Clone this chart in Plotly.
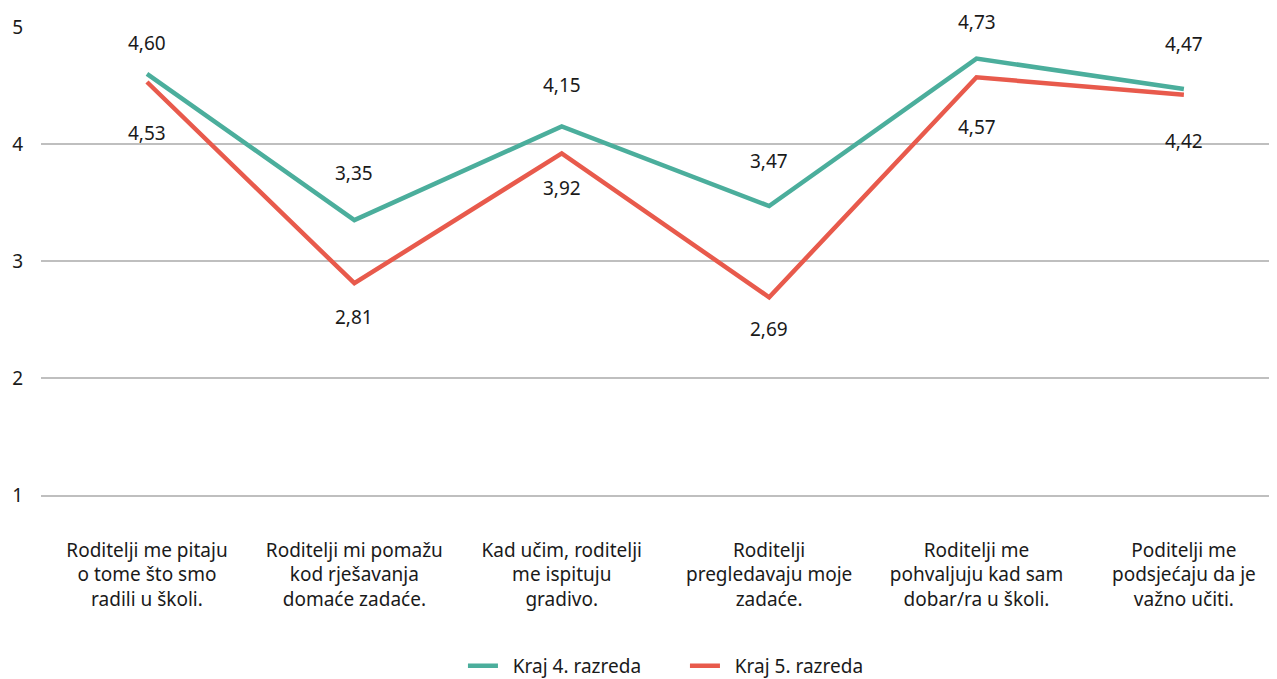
import plotly.graph_objects as go

categories = [
    "Roditelji me pitaju<br>o tome što smo<br>radili u školi.",
    "Roditelji mi pomažu<br>kod rješavanja<br>domaće zadaće.",
    "Kad učim, roditelji<br>me ispituju<br>gradivo.",
    "Roditelji<br>pregledavaju moje<br>zadaće.",
    "Roditelji me<br>pohvaljuju kad sam<br>dobar/ra u školi.",
    "Poditelji me<br>podsjećaju da je<br>važno učiti.",
]
series_names = ["Kraj 4. razreda", "Kraj 5. razreda"]
kraj4 = [4.60, 3.35, 4.15, 3.47, 4.73, 4.47]
kraj5 = [4.53, 2.81, 3.92, 2.69, 4.57, 4.42]
y_ticks = [1, 2, 3, 4, 5]

# label offsets (pixels) — styling only
shift4 = [31, 47, 41, 45, 37, 45]
shift5 = [-51, -34, -35, -32, -50, -46]

colors = ["#4BAE9C", "#E85A4C"]
FONT = "Noto Sans"
FS = 19
TXT = "#1a1a1a"
xs = list(range(len(categories)))

fig = go.Figure()
for name, vals, col in zip(series_names, [kraj4, kraj5], colors):
    fig.add_trace(go.Scatter(
        x=xs, y=vals, mode="lines", name="\u00a0\u00a0" + name,
        line=dict(color=col, width=4.5),
    ))

annotations = []
for vals, shifts in [(kraj4, shift4), (kraj5, shift5)]:
    for xi, v, s in zip(xs, vals, shifts):
        annotations.append(dict(
            x=xi, y=v, xref="x", yref="y",
            text=f"{v:.2f}".replace(".", ","),
            showarrow=False, yshift=s,
            font=dict(family=FONT, size=FS, color=TXT),
        ))

# page body has an 8px default margin; the figure sits at (8, 8)
fig.update_layout(
    width=1269, height=671,
    margin=dict(l=33, r=0, t=19, b=184, autoexpand=False),
    paper_bgcolor="white", plot_bgcolor="white",
    font=dict(family=FONT, size=FS, color=TXT),
    showlegend=True,
    legend=dict(
        orientation="h", x=0.521, xanchor="center", y=-0.365, yanchor="middle",
        font=dict(family=FONT, size=FS, color=TXT),
        entrywidth=177, entrywidthmode="pixels", itemwidth=30,
    ),
    annotations=annotations,
)
fig.update_xaxes(
    range=[-0.511, 5.449], automargin=False,
    tickmode="array", tickvals=xs, ticktext=categories,
    showgrid=False, zeroline=False,
    showline=True, linecolor="#BFBFBF", linewidth=1.5,
    ticks="", ticklabelstandoff=37,
    tickfont=dict(family=FONT, size=FS, color=TXT),
)
fig.update_yaxes(
    range=[1, 5], automargin=False,
    tickmode="array", tickvals=y_ticks,
    showgrid=True, gridcolor="#BFBFBF", gridwidth=1.5,
    zeroline=False, showline=False, ticks="",
    ticklabelstandoff=17,
    tickfont=dict(family=FONT, size=FS, color=TXT),
)

fig.write_html("out.html")
